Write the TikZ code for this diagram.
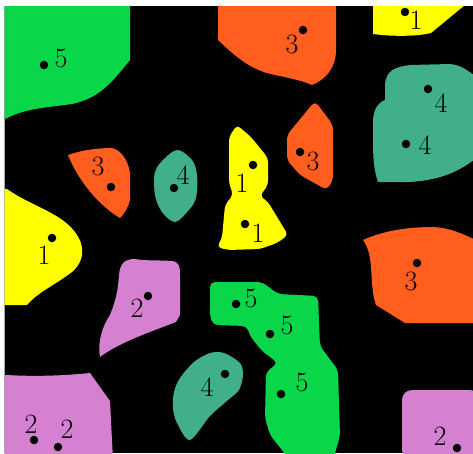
\documentclass[tikz,border=0pt]{standalone}
\usepackage{fontspec}
\definecolor{cgreen}{RGB}{10,214,74}
\definecolor{corange}{RGB}{255,94,30}
\definecolor{cyellow}{RGB}{255,255,0}
\definecolor{cteal}{RGB}{65,174,140}
\definecolor{cpurple}{RGB}{214,128,210}
\tikzset{
  dot/.style={circle,fill=black,minimum size=8.5pt,inner sep=0pt},
  lbl/.style={inner sep=0pt,font=\fontsize{28}{28}\selectfont},
  region/.style={line join=round},
}
\begin{document}
\begin{tikzpicture}[x=1pt,y=-1pt]
\useasboundingbox (0,0) rectangle (473,453);
\fill[black] (4,6) rectangle (473,453);
\draw[gray!70,line width=1pt] (4,6) -- (4,453);
\begin{scope}
\clip (4.5,6) rectangle (473,453);
% green top-left
\fill[cgreen] (0,0) -- (130,0) -- (130,60) .. controls (112,82) and (100,98) .. (72,104)
  .. controls (45,108) and (22,108) .. (0,122) -- cycle;
% orange top
\fill[corange] (218,0) -- (218,40) .. controls (235,56) and (250,70) .. (275,75)
  .. controls (295,79) and (305,82) .. (312,85) .. controls (325,80) and (336,68) .. (336,50) -- (336,0) -- cycle;
% yellow top right
\fill[cyellow] (373,0) -- (471,0) -- (431,33) .. controls (420,36) and (395,37) .. (373,34) -- cycle;
% teal right
\fill[cteal] (378,182) .. controls (374,170) and (373,160) .. (373,140) -- (373,120)
  .. controls (374,108) and (378,103) .. (385,100) -- (385,85)
  .. controls (386,70) and (395,67) .. (410,65) -- (450,64)
  .. controls (462,65) and (470,72) .. (480,80) -- (480,155)
  .. controls (460,172) and (440,180) .. (410,182) -- cycle;
% orange small left
\fill[corange] (68,155) .. controls (82,150) and (98,148) .. (112,148)
  .. controls (121,150) and (128,160) .. (130,173) -- (130,200)
  .. controls (128,208) and (124,214) .. (120,218)
  .. controls (98,205) and (78,180) .. (68,155) -- cycle;
% teal small
\fill[cteal] plot[smooth cycle,tension=0.55] coordinates {(155,172) (165,158) (178,150) (192,160) (197,175) (196,198) (188,211) (175,222) (162,212) (155,195)};
% yellow middle
\fill[cyellow,rounded corners=4pt] (237,125) -- (229,137) -- (229,183) -- (233,195) -- (225,205)
  -- (222,238) -- (217,247) -- (228,250) -- (260,249) -- (277,243) -- (288,235) -- (268,202)
  -- (260,196) -- (268,185) -- (268,158) -- (251,137) -- cycle;
% orange middle right
\fill[corange,rounded corners=5pt] (315,101) -- (333,125) -- (333,180) -- (327,190)
  -- (300,175) -- (287,160) -- (287,135) -- cycle;
% yellow left
\fill[cyellow] (0,188) -- (7,189) .. controls (25,202) and (50,210) .. (65,222)
  .. controls (85,238) and (88,258) .. (72,272) .. controls (55,285) and (38,292) .. (27,305)
  -- (0,305) -- cycle;
% orange right
\fill[corange] (363,240) .. controls (385,230) and (410,227) .. (433,227)
  .. controls (452,228) and (465,235) .. (480,242) -- (480,323) -- (405,323) -- (376,305)
  .. controls (372,295) and (372,280) .. (371,267) .. controls (370,255) and (368,247) .. (363,240) -- cycle;
% purple middle
\fill[cpurple] (100,357) .. controls (97,342) and (103,325) .. (110,315)
  .. controls (116,300) and (118,290) .. (119,275) .. controls (120,263) and (125,259) .. (135,259)
  .. controls (145,261) and (160,260) .. (172,261) .. controls (180,262) and (180,268) .. (180,275)
  -- (180,315) -- (176,322) .. controls (150,332) and (118,343) .. (100,357) -- cycle;
% purple bottom left
\fill[cpurple] (0,375) -- (7,375) .. controls (40,377) and (70,375) .. (90,373) -- (110,401) -- (113,460) -- (0,460) -- cycle;
% teal bottom
\fill[cteal] plot[smooth cycle,tension=0.5] coordinates {(210,353) (224,353) (240,363) (243,375) (239,390) (228,400) (210,416) (190,440) (177,423) (173,408) (174,392) (180,378) (194,362)};
% green middle
\fill[cgreen,rounded corners=5pt] (210,282) -- (262,282) -- (278,294) -- (318,296) -- (320,346)
  -- (338,370) -- (340,436) -- (333,460) -- (290,460) -- (270,435) -- (265,418) -- (266,372)
  -- (278,363) -- (262,351) -- (250,336) -- (247,326) -- (213,325) -- (210,316) -- cycle;
% purple bottom right
\fill[cpurple,rounded corners=10pt] (402,460) -- (402,390) -- (480,390) -- (480,460) -- cycle;
\end{scope}
% dots and labels
\node[dot] (d1) at (44,65) {};   \node[lbl] (l1) at (61,58) {5};
\node[dot] (d2) at (303,30) {};  \node[lbl] (l2) at (292,44) {3};
\node[dot] (d3) at (405,12) {};  \node[lbl] (l3) at (416,20) {1};
\node[dot] (d4) at (428,89) {};  \node[lbl] (l4) at (441,103) {4};
\node[dot] (d5) at (406,144) {}; \node[lbl] (l5) at (425,145) {4};
\node[dot] (d6) at (111,187) {}; \node[lbl] (l6) at (98,166) {3};
\node[dot] (d7) at (52,238) {};  \node[lbl] (l7) at (44,255) {1};
\node[dot] (d8) at (174,188) {}; \node[lbl] (l8) at (183,175) {4};
\node[dot] (d9) at (253,165) {}; \node[lbl] (l9) at (242,183) {1};
\node[dot] (d10) at (245,224) {};\node[lbl] (l10) at (258,233) {1};
\node[dot] (d11) at (300,152) {};\node[lbl] (l11) at (313,161) {3};
\node[dot] (d12) at (236,304) {};\node[lbl] (l12) at (251,298) {5};
\node[dot] (d13) at (270,334) {};\node[lbl] (l13) at (287,325) {5};
\node[dot] (d14) at (281,394) {};\node[lbl] (l14) at (302,382) {5};
\node[dot] (d15) at (225,374) {};\node[lbl] (l15) at (207,387) {4};
\node[dot] (d16) at (417,263) {};\node[lbl] (l16) at (411,281) {3};
\node[dot] (d17) at (148,296) {};\node[lbl] (l17) at (137,308) {2};
\node[dot] (d18) at (34,440) {}; \node[lbl] (l18) at (31,424) {2};
\node[dot] (d19) at (58,447) {}; \node[lbl] (l19) at (67,429) {2};
\node[dot] (d20) at (457,448) {};\node[lbl] (l20) at (440,436) {2};
\end{tikzpicture}
\end{document}
